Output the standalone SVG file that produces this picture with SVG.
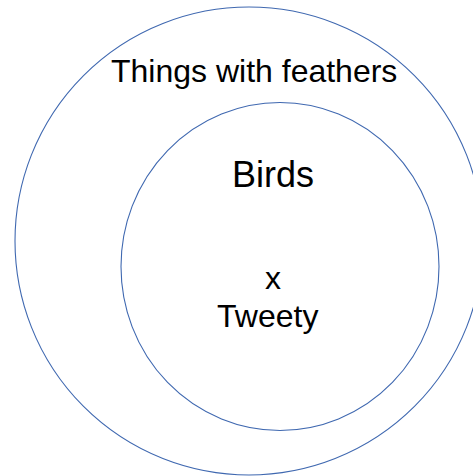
<svg xmlns="http://www.w3.org/2000/svg" width="473" height="476" viewBox="0 0 473 476">
  <style>
    .set { fill: none; stroke: #3f68b0; stroke-width: 1.1; }
    .lbl { font-family: "Liberation Sans", Arial, sans-serif; fill: #000; }
  </style>
  <rect width="473" height="476" fill="#fff"/>
  <g id="feathers">
    <ellipse class="set" cx="249" cy="241" rx="234" ry="234"/>
    <text class="lbl" x="111" y="82" font-size="32">Things with feathers</text>
  </g>
  <g id="birds">
    <ellipse class="set" cx="280" cy="266.5" rx="159" ry="164"/>
    <text class="lbl" x="232" y="187" font-size="36">Birds</text>
  </g>
  <g id="tweety">
    <text class="lbl" x="273" y="289" font-size="32" text-anchor="middle">x</text>
    <text class="lbl" x="217" y="327" font-size="32">Tweety</text>
  </g>
</svg>
